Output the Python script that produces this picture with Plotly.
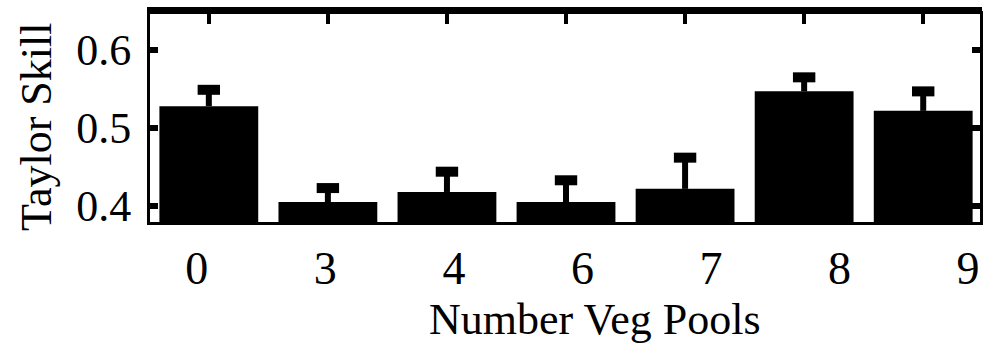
import plotly.graph_objects as go

# Taylor skill score by number of vegetation pools
pools = ["0", "3", "4", "6", "7", "8", "9"]
skill = [0.528, 0.405, 0.418, 0.405, 0.422, 0.547, 0.522]
skill_err = [0.021, 0.018, 0.026, 0.028, 0.040, 0.018, 0.025]

y_ticks = [0.4, 0.5, 0.6]
y_range = [0.3795, 0.6462]
x_range = [-0.494, 6.477]
# the category labels run on their own, slightly wider spacing
label_range = [-0.3643, 6.093]

FONT = "Liberation Serif, Times New Roman, serif"
FS = 44
FS_X = 46

cap_y = [v + e for v, e in zip(skill, skill_err)]
label_pos = list(range(len(pools)))

fig = go.Figure()

# bars with a one-sided (upward) error stem
fig.add_trace(go.Bar(
    x=pools, y=skill,
    width=0.83,
    marker=dict(color="black", line=dict(width=0)),
    error_y=dict(type="data", symmetric=False, array=skill_err,
                 arrayminus=[0] * len(skill_err),
                 color="black", thickness=6, width=0),
    showlegend=False,
))

# heavy caps on the error stems
fig.add_trace(go.Scatter(
    x=pools, y=cap_y, mode="markers",
    marker=dict(symbol="line-ew", size=16,
                line=dict(color="black", width=10)),
    showlegend=False, hoverinfo="skip",
))

# empty trace that carries the label axis
fig.add_trace(go.Scatter(
    x=label_pos, y=[None] * len(pools), xaxis="x2", mode="markers",
    marker=dict(opacity=0), showlegend=False, hoverinfo="skip",
))

fig.update_layout(
    width=986, height=348,
    margin=dict(l=150, r=3, t=14, b=126),
    paper_bgcolor="white", plot_bgcolor="white",
    font=dict(family=FONT, size=FS, color="black"),
    bargap=0.17,
    xaxis=dict(
        type="category", range=x_range,
        showline=True, linecolor="black", linewidth=3, mirror="ticks",
        ticks="inside", ticklen=10, tickwidth=4, tickcolor="black",
        showgrid=False, zeroline=False, showticklabels=False,
    ),
    xaxis2=dict(
        overlaying="x", anchor="y", side="bottom", range=label_range,
        tickmode="array", tickvals=label_pos, ticktext=pools,
        showline=False, ticks="", showgrid=False, zeroline=False,
        tickfont=dict(family=FONT, size=FS_X),
        ticklabelstandoff=15,
    ),
    yaxis=dict(
        range=y_range, tickvals=y_ticks, ticktext=["0.4", "0.5", "0.6"],
        showline=True, linecolor="black", linewidth=3, mirror="ticks",
        ticks="inside", ticklen=8, tickwidth=6, tickcolor="black",
        showgrid=False, zeroline=False,
        tickfont=dict(family=FONT, size=FS),
        ticklabelstandoff=7,
    ),
    shapes=[dict(
        type="line", xref="paper", yref="paper",
        x0=-3 / 833, x1=1 + 2 / 833, y0=1 + 3.5 / 208, y1=1 + 3.5 / 208,
        line=dict(color="black", width=7),
    )],
    annotations=[
        dict(text="Number Veg Pools", xref="paper", yref="paper",
             x=(596.5 - 150) / 833, y=-(319 - 222) / 208,
             xanchor="center", yanchor="middle", showarrow=False,
             font=dict(family=FONT, size=FS)),
        dict(text="Taylor Skill", xref="paper", yref="paper",
             x=-(150 - 36) / 833, y=(222 - 126.5) / 208,
             xanchor="center", yanchor="middle", textangle=-90,
             showarrow=False, font=dict(family=FONT, size=FS)),
    ],
)

fig.write_html("out.html")
